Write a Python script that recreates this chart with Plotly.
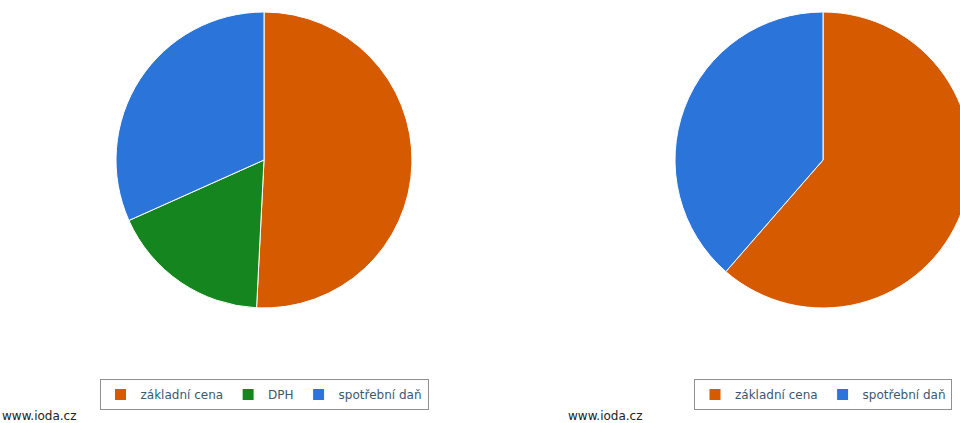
import plotly.graph_objects as go

# Data
labels_left = ["základní cena", "DPH", "spotřební daň"]
values_left = [50.8, 17.5, 31.7]
labels_right = ["základní cena", "spotřební daň"]
values_right = [61.4, 38.6]
credit_text = "www.ioda.cz"

color_map = {"základní cena": "#D65A00", "DPH": "#15861F", "spotřební daň": "#2A74DA"}

W, H = 990, 423
font_family = "DejaVu Sans, Verdana, sans-serif"
ZW = "\u200b"  # keeps right-pie legend entries distinct from the left ones

fig = go.Figure()
fig.add_trace(go.Pie(
    labels=labels_left, values=values_left, sort=False, direction="clockwise", rotation=0,
    marker=dict(colors=[color_map[l] for l in labels_left], line=dict(color="white", width=1)),
    textinfo="none", hoverinfo="label+percent",
    domain=dict(x=[(264 - 148) / W, (264 + 148) / W], y=[(H - 308) / H, (H - 12) / H]),
    legend="legend", showlegend=True,
))
fig.add_trace(go.Pie(
    labels=[l + ZW for l in labels_right], values=values_right, sort=False,
    direction="clockwise", rotation=0,
    marker=dict(colors=[color_map[l] for l in labels_right], line=dict(color="white", width=1)),
    textinfo="none", hoverinfo="label+percent",
    domain=dict(x=[(823 - 148) / W, (823 + 148) / W], y=[(H - 308) / H, (H - 12) / H]),
    legend="legend2", showlegend=True,
))

legend_style = dict(
    orientation="h", xanchor="center", yanchor="top",
    bordercolor="#909090", borderwidth=1, bgcolor="white",
    font=dict(family=font_family, size=12, color="#3E576F"),
    itemclick=False, itemdoubleclick=False,
)
fig.update_layout(
    width=W, height=H,
    margin=dict(l=0, r=0, t=0, b=0),
    paper_bgcolor="white", plot_bgcolor="white",
    font=dict(family=font_family),
    legend=dict(x=264 / W, y=(H - 379) / H, **legend_style),
    legend2=dict(x=823 / W, y=(H - 379) / H, **legend_style),
    annotations=[
        dict(text=credit_text, x=0 / W, y=(H - 416) / H, xref="paper", yref="paper",
             xanchor="left", yanchor="middle", showarrow=False,
             font=dict(family=font_family, size=12, color="#222222")),
        dict(text=credit_text, x=566 / W, y=(H - 416) / H, xref="paper", yref="paper",
             xanchor="left", yanchor="middle", showarrow=False,
             font=dict(family=font_family, size=12, color="#222222")),
    ],
)

fig.write_html(
    "out.html",
    config={"displayModeBar": False},
    post_script="document.body.style.margin='0';document.body.style.overflow='hidden';document.documentElement.style.overflow='hidden';",
)
